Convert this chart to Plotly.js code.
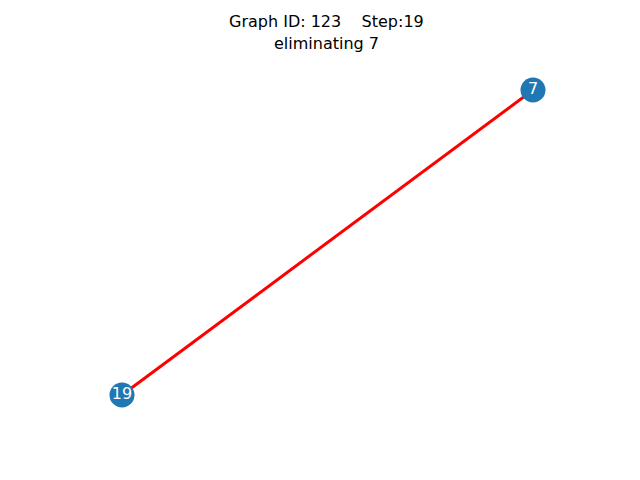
<!DOCTYPE html>
<html>
<head>
<meta charset="utf-8">
<script src="https://cdn.plot.ly/plotly-3.0.1.min.js"></script>
<style>body{margin:0}#graph{width:640px;height:480px}</style>
</head>
<body>
<div id="graph"></div>
<script>
// node layout (pixel-like coordinates, y grows downward)
let nodeNames = ['19', '7'];
let nodeX = [122, 533];
let nodeY = [395, 90];
let edgeFrom = [0];
let edgeTo = [1];
let titleLines = ['Graph ID: 123\u00a0\u00a0\u00a0\u00a0Step:19', 'eliminating 7'];

let edgeX = [];
let edgeY = [];
for (let i = 0; i < edgeFrom.length; i++) {
    edgeX.push(nodeX[edgeFrom[i]], nodeX[edgeTo[i]], null);
    edgeY.push(nodeY[edgeFrom[i]], nodeY[edgeTo[i]], null);
}

let edges = {
    x: edgeX, y: edgeY, mode: 'lines',
    line: {color: 'red', width: 3},
    hoverinfo: 'skip'
};
let nodes = {
    x: nodeX, y: nodeY, mode: 'markers+text',
    text: nodeNames, textposition: 'middle center',
    marker: {color: '#1f77b4', size: 25},
    textfont: {color: 'white', size: 16, family: 'DejaVu Sans'}
};

// title drawn as annotations so it isn't clipped at the top edge
let titleAnn = titleLines.map(function(t, i) {
    return {
        text: t, showarrow: false,
        xref: 'paper', yref: 'paper', x: 0.51, y: 1 - (22 + i * 21) / 480,
        xanchor: 'center', yanchor: 'middle',
        font: {family: 'DejaVu Sans', size: 16, color: 'black'}
    };
});

let layout = {
    width: 640, height: 480,
    margin: {l: 0, r: 0, t: 0, b: 0},
    showlegend: false,
    paper_bgcolor: 'white', plot_bgcolor: 'white',
    annotations: titleAnn,
    xaxis: {range: [0, 640], visible: false},
    yaxis: {range: [480, 0], visible: false}
};

Plotly.newPlot('graph', [edges, nodes], layout, {displayModeBar: false});
</script>
</body>
</html>
